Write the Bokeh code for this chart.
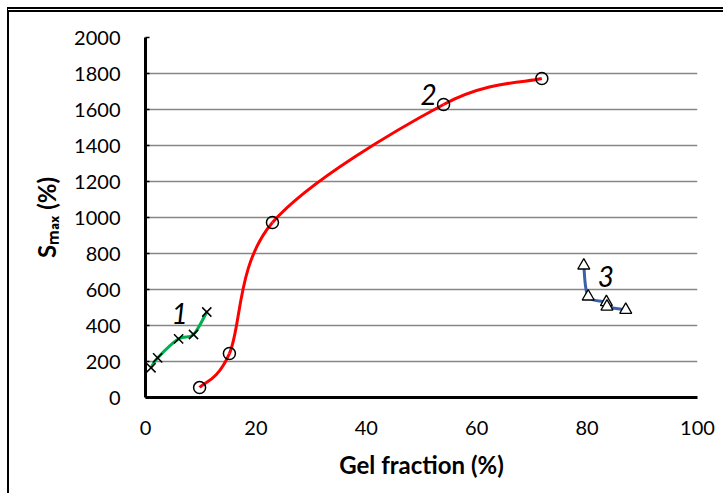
from bokeh.plotting import figure
from bokeh.models import Range1d, Label, FixedTicker
from bokeh.embed import file_html
from bokeh.resources import INLINE

# Series 1 (crosses, green)
s1_x = [1.0, 2.2, 6.0, 8.7, 11.1]
s1_y = [165, 220, 326, 350, 475]
# Series 2 (circles, red)
s2_x = [9.8, 15.2, 23.0, 54.0, 71.8]
s2_y = [55, 244, 972, 1628, 1772]
# Series 3 (triangles, blue)
s3_x = [79.4, 80.2, 83.5, 83.6, 87.0]
s3_y = [733, 561, 530, 505, 487]

x_ticks = [0, 20, 40, 60, 80, 100]
y_ticks = [0, 200, 400, 600, 800, 1000, 1200, 1400, 1600, 1800, 2000]

FONT = "Lato"
OX, OY = 9, 12          # canvas origin inside the page (margin + border)
W, H = 716, 486

p = figure(width=W, height=H, output_backend="svg", toolbar_location=None,
           x_range=Range1d(0, 100), y_range=Range1d(0, 2000),
           min_border_left=145 - OX, min_border_right=W - (697 - OX),
           min_border_top=37 - OY, min_border_bottom=H - (397 - OY))
p.styles = {"margin-top": "7px", "margin-left": "7px",
            "border-top": "5px double black", "border-left": "2px solid black"}
p.outline_line_color = None
p.background_fill_color = "white"
p.border_fill_color = "white"

p.xgrid.grid_line_color = None
p.ygrid.grid_line_color = "#868686"
p.ygrid.grid_line_width = 1.5
p.ygrid.ticker = FixedTicker(ticks=y_ticks)

p.xaxis.ticker = FixedTicker(ticks=x_ticks)
p.yaxis.ticker = FixedTicker(ticks=y_ticks)
for ax in (p.xaxis[0], p.yaxis[0]):
    ax.axis_line_width = 3
    ax.axis_line_color = "black"
    ax.major_label_text_font = FONT
    ax.major_label_text_font_size = "20px"
    ax.major_label_text_color = "black"
    ax.minor_tick_line_color = None
    ax.axis_label_text_font = FONT
    ax.axis_label_text_font_style = "bold"
    ax.axis_label_text_font_size = "24px"
    ax.axis_label_text_color = "black"
p.xaxis.major_tick_out = 0
p.xaxis.major_tick_in = 0
p.yaxis.major_tick_out = 0
p.yaxis.major_tick_in = 4
p.yaxis.major_tick_line_width = 1.5
p.xaxis.major_label_standoff = 23
p.yaxis.major_label_standoff = 25

p.xaxis.axis_label = "Gel fraction (%)"
p.xaxis.axis_label_standoff = 12
p.yaxis.axis_label = "S\u2098\u2090\u2093 (%)"
p.yaxis.axis_label_standoff = 10


def smooth(xs, ys, color, width=3):
    n = len(xs)
    x0, y0, x1, y1, cx0, cy0, cx1, cy1 = [], [], [], [], [], [], [], []
    for i in range(n - 1):
        pa = (xs[max(i - 1, 0)], ys[max(i - 1, 0)])
        p0 = (xs[i], ys[i])
        p1 = (xs[i + 1], ys[i + 1])
        pb = (xs[min(i + 2, n - 1)], ys[min(i + 2, n - 1)])
        x0.append(p0[0]); y0.append(p0[1]); x1.append(p1[0]); y1.append(p1[1])
        cx0.append(p0[0] + (p1[0] - pa[0]) / 6.0)
        cy0.append(p0[1] + (p1[1] - pa[1]) / 6.0)
        cx1.append(p1[0] - (pb[0] - p0[0]) / 6.0)
        cy1.append(p1[1] - (pb[1] - p0[1]) / 6.0)
    p.bezier(x0=x0, y0=y0, x1=x1, y1=y1, cx0=cx0, cy0=cy0, cx1=cx1, cy1=cy1,
             line_color=color, line_width=width)


smooth(s1_x, s1_y, "#00B050")
smooth(s2_x, s2_y, "#FF0000")
smooth(s3_x, s3_y, "#3A62A8")

p.scatter(s1_x, s1_y, marker="x", size=13, line_color="black", line_width=1.5)
p.scatter(s2_x, s2_y, marker="circle", size=12, line_color="black", line_width=1.5,
          fill_alpha=0)
p.scatter(s3_x, s3_y, marker="triangle", size=12, line_color="black", line_width=1.3,
          fill_color="white")

for txt, lx, ly in [("1", 6.2, 464), ("2", 51.3, 1683), ("3", 83.4, 672)]:
    p.add_layout(Label(x=lx, y=ly, text=txt, text_font=FONT, text_font_style="italic",
                       text_font_size="28px", text_align="center",
                       text_baseline="middle", text_color="black"))

open("out.html", "w").write(file_html(p, INLINE))
